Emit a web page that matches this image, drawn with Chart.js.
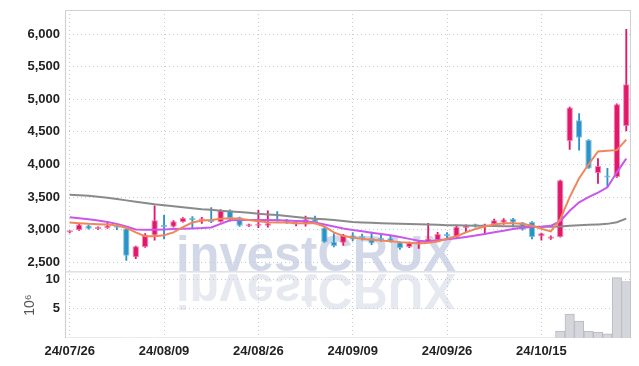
<!DOCTYPE html>
<html>
<head>
<meta charset="utf-8">
<script src="https://cdn.jsdelivr.net/npm/chart.js@4.4.0/dist/chart.umd.min.js"></script>
<style>
  html, body { margin: 0; padding: 0; background: #fff; }
  #wrap { width: 639px; height: 366px; }
</style>
</head>
<body>
<div id="wrap"><canvas id="grafico" width="639" height="366"></canvas></div>
<script>
// Fechas (días hábiles)
var dates = [
  "24/07/26", "24/07/29", "24/07/30", "24/07/31", "24/08/01", "24/08/02", "24/08/05", "24/08/06", "24/08/07", "24/08/08",
  "24/08/09", "24/08/12", "24/08/13", "24/08/14", "24/08/16", "24/08/19", "24/08/20", "24/08/21", "24/08/22", "24/08/23",
  "24/08/26", "24/08/27", "24/08/28", "24/08/29", "24/08/30", "24/09/02", "24/09/03", "24/09/04", "24/09/05", "24/09/06",
  "24/09/09", "24/09/10", "24/09/11", "24/09/12", "24/09/13", "24/09/19", "24/09/20", "24/09/23", "24/09/24", "24/09/25",
  "24/09/26", "24/09/27", "24/09/30", "24/10/02", "24/10/04", "24/10/07", "24/10/08", "24/10/10", "24/10/11", "24/10/14",
  "24/10/15", "24/10/16", "24/10/17", "24/10/18", "24/10/21", "24/10/22", "24/10/23", "24/10/24", "24/10/25", "24/10/28"
];

// Velas: apertura, máximo, mínimo, cierre
var opens = [
  2960, 2995, 3065, 3010, 3025, 3040, 3020, 2580, 2735, 2915,
  3060, 3045, 3120, 3180, 3140, 3155, 3120, 3300, 3190, 3055,
  3060, 3060, 3145, 3150, 3080, 3080, 3160, 3030, 2820, 2800,
  2915, 2905, 2875, 2875, 2870, 2810, 2735, 2780, 2810, 2840,
  2925, 2890, 3025, 3065, 3045, 3080, 3110, 3170, 3110, 3120,
  2900, 2860, 2890, 4360, 4680, 4375, 3870, 3815, 3810, 4590
];
var highs = [
  2985, 3085, 3070, 3045, 3100, 3080, 3030, 2750, 2940, 3365,
  3220, 3140, 3185, 3200, 3190, 3340, 3310, 3305, 3195, 3085,
  3300, 3290, 3280, 3160, 3110, 3210, 3210, 3035, 2940, 2930,
  2955, 2935, 2965, 2920, 2905, 2820, 2810, 2830, 3100, 2960,
  2955, 3055, 3075, 3085, 3085, 3165, 3170, 3175, 3115, 3125,
  2950, 2905, 3760, 4880, 4780, 4380, 4090, 3940, 4930, 6070
];
var lows = [
  2950, 2990, 3010, 3005, 3020, 3000, 2530, 2555, 2730, 2840,
  2860, 3040, 3115, 3020, 3095, 3110, 3115, 3130, 3050, 3050,
  3030, 3040, 3130, 3095, 3060, 3055, 3090, 2805, 2735, 2760,
  2830, 2840, 2770, 2820, 2810, 2700, 2725, 2715, 2800, 2835,
  2860, 2880, 2970, 3040, 2925, 3070, 3080, 3045, 2995, 2860,
  2840, 2850, 2885, 4230, 4220, 3940, 3710, 3660, 3800, 4515
];
var closes = [
  2975, 3080, 3015, 3040, 3065, 3030, 2600, 2745, 2925, 3145,
  3040, 3130, 3180, 3145, 3150, 3120, 3300, 3180, 3060, 3075,
  3070, 3100, 3135, 3110, 3090, 3160, 3120, 2810, 2750, 2925,
  2850, 2875, 2790, 2840, 2820, 2720, 2800, 2820, 2860, 2935,
  2905, 3045, 3065, 3055, 3080, 3145, 3155, 3110, 3000, 2890,
  2945, 2895, 3760, 4875, 4410, 3940, 3975, 3800, 4925, 5230
];

// Medias móviles
var ma5 = [
  3110, 3100, 3090, 3085, 3080, 3065, 3030, 2960, 2900, 2900,
  2915, 2960, 3040, 3110, 3140, 3150, 3170, 3175, 3170, 3150,
  3130, 3115, 3110, 3110, 3100, 3100, 3100, 3050, 2960, 2905,
  2880, 2860, 2845, 2835, 2825, 2810, 2800, 2790, 2800, 2820,
  2860, 2900, 2960, 3010, 3050, 3080, 3100, 3100, 3090, 3060,
  3015, 2975, 3160, 3500, 3790, 4000, 4200, 4210, 4220, 4380
];
var ma20 = [
  3190, 3175, 3160, 3140, 3120, 3090, 3050, 3005, 3000, 3000,
  3005, 3010, 3015, 3020, 3025, 3035, 3090, 3145, 3150, 3150,
  3150, 3150, 3145, 3140, 3135, 3130, 3110, 3080, 3050, 3020,
  2995, 2975, 2955, 2935, 2915, 2890, 2860, 2830, 2820, 2840,
  2855, 2870, 2890, 2910, 2935, 2960, 2985, 3010, 3030, 3040,
  3045, 3060, 3130, 3290, 3420, 3500, 3570, 3650, 3880, 4090
];
var ma120 = [
  3535, 3530, 3520, 3505, 3490, 3470, 3450, 3430, 3410, 3390,
  3375, 3360, 3345, 3330, 3315, 3305, 3290, 3280, 3270, 3260,
  3245, 3235, 3225, 3210, 3195, 3180, 3170, 3160, 3150, 3135,
  3120, 3112, 3106, 3100, 3095, 3092, 3088, 3084, 3080, 3075,
  3070, 3067, 3064, 3062, 3060, 3057, 3055, 3052, 3050, 3047,
  3045, 3045, 3050, 3060, 3068, 3075, 3082, 3090, 3115, 3170
];

// Volumen (millones)
var volumes = [
  0.01, 0.01, 0.01, 0.01, 0.01, 0.01, 0.02, 0.01, 0.01, 0.02,
  0.01, 0.01, 0.01, 0.01, 0.01, 0.01, 0.01, 0.01, 0.01, 0.01,
  0.01, 0.01, 0.01, 0.01, 0.01, 0.01, 0.01, 0.02, 0.01, 0.01,
  0.01, 0.01, 0.01, 0.01, 0.01, 0.01, 0.01, 0.01, 0.01, 0.01,
  0.01, 0.01, 0.01, 0.01, 0.01, 0.01, 0.01, 0.01, 0.01, 0.01,
  0.01, 0.01, 1.2, 4.1, 2.9, 1.2, 1.0, 0.7, 10.3, 9.65
];

var priceTicks = [2500, 3000, 3500, 4000, 4500, 5000, 5500, 6000];
var volumeTicks = [5, 10];

var UP = "#e2186b";
var DOWN = "#2c93c9";
var fuente = "'Liberation Sans', Arial, sans-serif";

var colores = opens.map(function (o, i) { return closes[i] >= o ? UP : DOWN; });
var bordes = opens.map(function (o, i) { return closes[i] >= o ? "rgba(240,110,165,0.8)" : "rgba(110,180,220,0.8)"; });

// quita el relleno extra que Chart.js reserva para las etiquetas extremas
function sinRelleno(s) {
  s.paddingTop = 0;
  s.paddingBottom = 0;
  s.paddingLeft = 0;
  s.paddingRight = 0;
}

// Marca de agua con reflejo, separador y marco
var marcaAgua = {
  id: "marcaAgua",
  beforeDraw: function (chart) {
    var ctx = chart.ctx;
    var area = chart.chartArea;
    var corte = chart.scales.yv.top;
    var x0 = area.left + 111;
    ctx.save();
    ctx.font = "bold 50px 'Liberation Sans', sans-serif";
    var w = ctx.measureText("investCRUX").width;
    var k = 280 / w;
    ctx.save();
    ctx.translate(x0, corte - 1.5);
    ctx.scale(k, 1);
    ctx.fillStyle = "#d3d8e8";
    ctx.fillText("investCRUX", 0, 0);
    ctx.restore();
    ctx.beginPath();
    ctx.rect(area.left, corte, area.right - area.left, area.bottom - corte);
    ctx.clip();
    ctx.translate(x0, corte + 1.5);
    ctx.scale(k, -1);
    ctx.fillStyle = "#e7e9f1";
    ctx.fillText("investCRUX", 0, 0);
    ctx.restore();
  },
  beforeDatasetsDraw: function (chart) {
    var ctx = chart.ctx;
    var area = chart.chartArea;
    var corte = chart.scales.yv.top;
    ctx.save();
    ctx.strokeStyle = "#cfcfd4";
    ctx.lineWidth = 1;
    ctx.beginPath();
    ctx.moveTo(area.left, corte - 0.5);
    ctx.lineTo(area.right, corte - 0.5);
    ctx.moveTo(area.left + 0.5, area.top);
    ctx.lineTo(area.left + 0.5, area.bottom);
    ctx.moveTo(area.left, area.top + 0.5);
    ctx.lineTo(area.right, area.top + 0.5);
    ctx.moveTo(area.right - 0.5, area.top);
    ctx.lineTo(area.right - 0.5, area.bottom);
    ctx.stroke();
    ctx.restore();
  }
};

var ctx = document.getElementById("grafico").getContext("2d");

var grafico = new Chart(ctx, {
  data: {
    labels: dates,
    datasets: [
      {
        type: "line", label: "MA5", data: ma5, yAxisID: "y",
        borderColor: "#f0875a", borderWidth: 2, pointRadius: 0, order: 1
      },
      {
        type: "line", label: "MA20", data: ma20, yAxisID: "y",
        borderColor: "#c957ec", borderWidth: 2, pointRadius: 0, order: 1
      },
      {
        type: "line", label: "MA120", data: ma120, yAxisID: "y",
        borderColor: "#8a8a8a", borderWidth: 2, pointRadius: 0, order: 1
      },
      {
        type: "bar", label: "body", yAxisID: "y",
        data: opens.map(function (o, i) { return [o, closes[i]]; }),
        backgroundColor: colores, borderColor: bordes, borderWidth: 1, borderSkipped: false,
        barPercentage: 0.68, categoryPercentage: 1, grouped: false, minBarLength: 2, order: 2
      },
      {
        type: "bar", label: "wick", yAxisID: "y",
        data: lows.map(function (l, i) { return [l, highs[i]]; }),
        backgroundColor: colores, barThickness: 1.2, grouped: false, order: 3
      },
      {
        type: "bar", label: "volume", yAxisID: "yv", data: volumes,
        backgroundColor: "#d5d5dc", borderColor: "#b9b9c3", borderWidth: 1, borderSkipped: "bottom",
        barPercentage: 1, categoryPercentage: 1, grouped: false, order: 4
      }
    ]
  },
  options: {
    responsive: false,
    animation: false,
    layout: { padding: { left: 0, right: 8, top: 10, bottom: 0 } },
    plugins: { legend: { display: false }, tooltip: { enabled: false } },
    scales: {
      x: {
        type: "category",
        offset: true,
        afterBuildTicks: function (s) {
          s.ticks = s.ticks.filter(function (t) { return t.value % 10 === 0; });
        },
        afterFit: function (s) { s.height = 28; sinRelleno(s); },
        grid: { color: "#c6c9d8", offset: false, drawTicks: false },
        border: { display: false, dash: [1, 3] },
        ticks: { autoSkip: false, maxRotation: 0, color: "#222", padding: 6, font: { family: fuente, size: 13, weight: "bold" } }
      },
      // el volumen se declara antes para que quede abajo en la pila
      yv: {
        type: "linear", position: "left", stack: "p", stackWeight: 1,
        min: 0, max: 11.2,
        afterBuildTicks: function (s) { s.ticks = volumeTicks.map(function (v) { return { value: v }; }); },
        afterFit: function (s) { s.width = 65; sinRelleno(s); },
        grid: { color: "#c6c9d8", drawTicks: false },
        border: { display: false, dash: [1, 3] },
        title: { display: true, text: "10⁶", color: "#555", padding: { top: 22, bottom: 0 }, font: { family: fuente, size: 14 } },
        ticks: { autoSkip: false, color: "#222", padding: 5, font: { family: fuente, size: 13, weight: "bold" } }
      },
      y: {
        type: "linear", position: "left", stack: "p", stackWeight: 4,
        min: 2346, max: 6368,
        afterBuildTicks: function (s) { s.ticks = priceTicks.map(function (v) { return { value: v }; }); },
        afterFit: function (s) { s.width = 65; sinRelleno(s); },
        grid: { color: "#c6c9d8", drawTicks: false },
        border: { display: false, dash: [1, 3] },
        ticks: {
          autoSkip: false, color: "#222", padding: 5, font: { family: fuente, size: 13, weight: "bold" },
          callback: function (v) { return v.toLocaleString("en-US"); }
        }
      }
    }
  },
  plugins: [marcaAgua]
});
</script>
</body>
</html>
